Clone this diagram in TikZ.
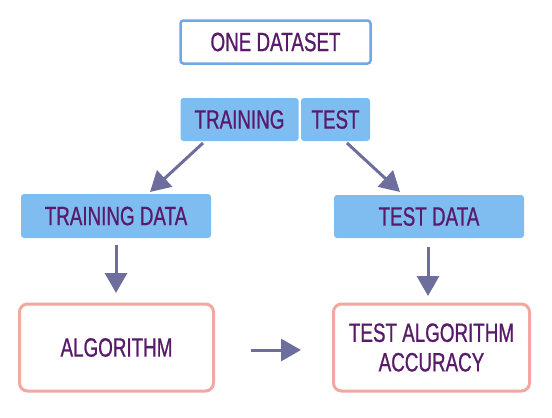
\documentclass[tikz,border=0pt]{standalone}
\usepackage{fontspec}
\setmainfont[FakeStretch=0.71,FakeBold=0.8]{Liberation Sans}
\usetikzlibrary{arrows.meta}
\definecolor{txt}{HTML}{5A1A6A}
\definecolor{bfill}{HTML}{7FBCF0}
\definecolor{bline}{HTML}{6EA8E8}
\definecolor{pline}{HTML}{F0A8A0}
\definecolor{arr}{HTML}{6E6E9E}
\tikzset{
  base/.style={minimum width=#1, rounded corners=3pt, text=txt, font=\fontsize{26.5}{28}\selectfont, inner sep=0pt},
  outline/.style={base=#1, draw=bline, line width=2.5pt, fill=white},
  filled/.style={base=#1, fill=bfill, draw=none},
  pink/.style={base=#1, draw=pline, line width=3pt, fill=white, minimum height=87pt, rounded corners=8pt, align=center},
  conn/.style={draw=arr, line width=3pt, -{Triangle[length=20pt,width=22pt]}}
}
\begin{document}
\begin{tikzpicture}[x=1pt,y=-1pt]
\useasboundingbox (0,0) rectangle (552,418);
\node[outline=190pt, minimum height=43pt] (one) at (275.5,42) {ONE DATASET};
\node[filled=118pt, minimum height=43pt] (train) at (239.5,119.5) {TRAINING};
\node[filled=69pt, minimum height=43pt] (test) at (335.5,119.5) {TEST};
\node[filled=190pt, minimum height=44pt] (tdata) at (116,216) {TRAINING DATA};
\node[filled=190pt, minimum height=43pt] (sdata) at (429,216.5) {TEST DATA};
\node[pink=194pt] (algo) at (116.5,347.5) {ALGORITHM};
\node[pink=196pt] (acc) at (431.5,347.5) {TEST ALGORITHM\\[1.5pt]ACCURACY};
\coordinate (a1) at (203,143); \coordinate (a1e) at (150,192);
\coordinate (a2) at (347,143); \coordinate (a2e) at (400,192);
\coordinate (b1) at (116,245); \coordinate (b1e) at (116,293);
\coordinate (b2) at (428,247); \coordinate (b2e) at (428,296);
\coordinate (c1) at (251,350); \coordinate (c1e) at (301,350);
\draw[conn] (a1) -- (a1e);
\draw[conn] (a2) -- (a2e);
\draw[conn] (b1) -- (b1e);
\draw[conn] (b2) -- (b2e);
\draw[conn] (c1) -- (c1e);
\end{tikzpicture}
\end{document}
